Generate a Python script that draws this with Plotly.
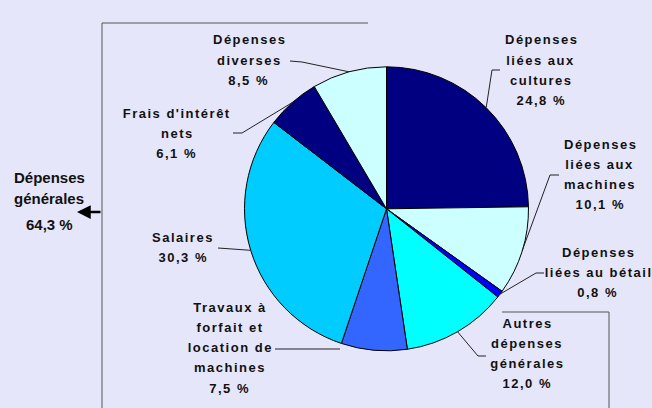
import math
import plotly.graph_objects as go

# ---- data ----
labels = [
    "Dépenses<br>liées aux<br>cultures",
    "Dépenses<br>liées aux<br>machines",
    "Dépenses<br>liées au bétail",
    "Autres<br>dépenses<br>générales",
    "Travaux à<br>forfait et<br>location de<br>machines",
    "Salaires",
    "Frais d'intérêt<br>nets",
    "Dépenses<br>diverses",
]
values = [24.8, 10.1, 0.8, 12.0, 7.5, 30.3, 6.1, 8.5]
colors = ["#000080", "#CCFFFF", "#0000FF", "#00FFFF", "#3366FF", "#00CCFF", "#000080", "#CCFFFF"]
group_lines = ["Dépenses", "générales"]
group_value = "64,3 %"

W, H = 652, 408
BG = "#E6E6FA"
CX, CY, R = 386.5, 208.8, 142.0

def px(x, y):
    return x / W, 1 - y / H

# label layout: (center x, first line y) in pixels
label_pos = [(541, 40), (600, 144), (598, 252), (527, 323), (230, 307), (183, 237), (177, 113), (249, 40)]
# leader lines: points from label side to elbow; final point is slice mid on arc
leader_pts = [
    [(500, 70), (492, 70)],
    [(559, 175), (550, 175)],
    [(544, 273), (536, 273)],
    [(486, 356), (478, 356)],
    [(275, 349), (340, 349)],
    [(218, 248)],
    [(233, 133), (242, 133)],
    [(290, 61), (302, 62)],
]
LINE = 20.3

fig = go.Figure()
x0, y1 = px(CX - R, CY - R)
x1, y0 = px(CX + R, CY + R)
fig.add_trace(go.Pie(
    labels=[l.replace("<br>", " ") for l in labels],
    values=values,
    sort=False,
    direction="clockwise",
    rotation=0,
    marker=dict(colors=colors, line=dict(color="#000000", width=1)),
    textinfo="none",
    hoverinfo="label+percent",
    showlegend=False,
    domain=dict(x=[x0, x1], y=[y0, y1]),
))

def pathp(pts):
    return "M " + " L ".join(f"{px(a, b)[0]},{px(a, b)[1]}" for a, b in pts)

total = sum(values)
annotations = []
shapes = []
cum = 0.0
for i, (lab, v) in enumerate(zip(labels, values)):
    mid = (cum + v / 2) / total * 2 * math.pi
    cum += v
    ax_, ay_ = CX + R * math.sin(mid), CY - R * math.cos(mid)
    lines = lab.split("<br>") + [f"{v:.1f} %".replace(".", ",")]
    cxp, cyp = label_pos[i]
    for k, t in enumerate(lines):
        xx, yy = px(cxp, cyp + k * LINE)
        annotations.append(dict(
            x=xx, y=yy, xref="paper", yref="paper", text=t, showarrow=False,
            xanchor="center", yanchor="middle",
            font=dict(family="Liberation Sans, Arial", size=13, color="#111111", weight="bold"),
        ))
    pts = list(leader_pts[i])
    if i != 4:
        pts.append((ax_, ay_))
    shapes.append(dict(type="path", xref="paper", yref="paper", path=pathp(pts),
                       line=dict(color="#222222", width=1)))

# group label on the left
for t, (gx, gy) in zip(group_lines + [group_value], [(49, 177), (49, 198), (49, 224)]):
    xx, yy = px(gx, gy)
    annotations.append(dict(
        x=xx, y=yy, xref="paper", yref="paper", text=t, showarrow=False,
        xanchor="center", yanchor="middle",
        font=dict(family="Liberation Sans, Arial", size=15, color="#111111", weight="bold"),
    ))
# arrow
hx, hy = px(77, 212)
annotations.append(dict(x=hx, y=hy, xref="paper", yref="paper", text="", showarrow=True,
                        ax=25, ay=0, arrowhead=2, arrowsize=1.1, arrowwidth=2.5,
                        arrowcolor="#000000", standoff=0, startstandoff=0))

# bracket lines
shapes.append(dict(type="path", xref="paper", yref="paper",
                   path=pathp([(102, 408), (102, 23), (368, 23)]),
                   line=dict(color="#555555", width=1)))
shapes.append(dict(type="path", xref="paper", yref="paper",
                   path=pathp([(502, 312), (609, 312), (609, 408)]),
                   line=dict(color="#555555", width=1)))

fig.update_layout(
    width=W, height=H,
    margin=dict(l=0, r=0, t=0, b=0),
    paper_bgcolor=BG, plot_bgcolor=BG,
    annotations=annotations, shapes=shapes,
    showlegend=False,
)

post = (
    "document.body.style.margin='0';"
    "document.body.style.overflow='hidden';"
    "document.querySelectorAll('text.annotation-text').forEach(function(t){"
    "if (t.style.fontSize === '13px') { t.style.letterSpacing = '1.5px'; }});"
)
fig.write_html("out.html", post_script=post, config={"displayModeBar": False})
